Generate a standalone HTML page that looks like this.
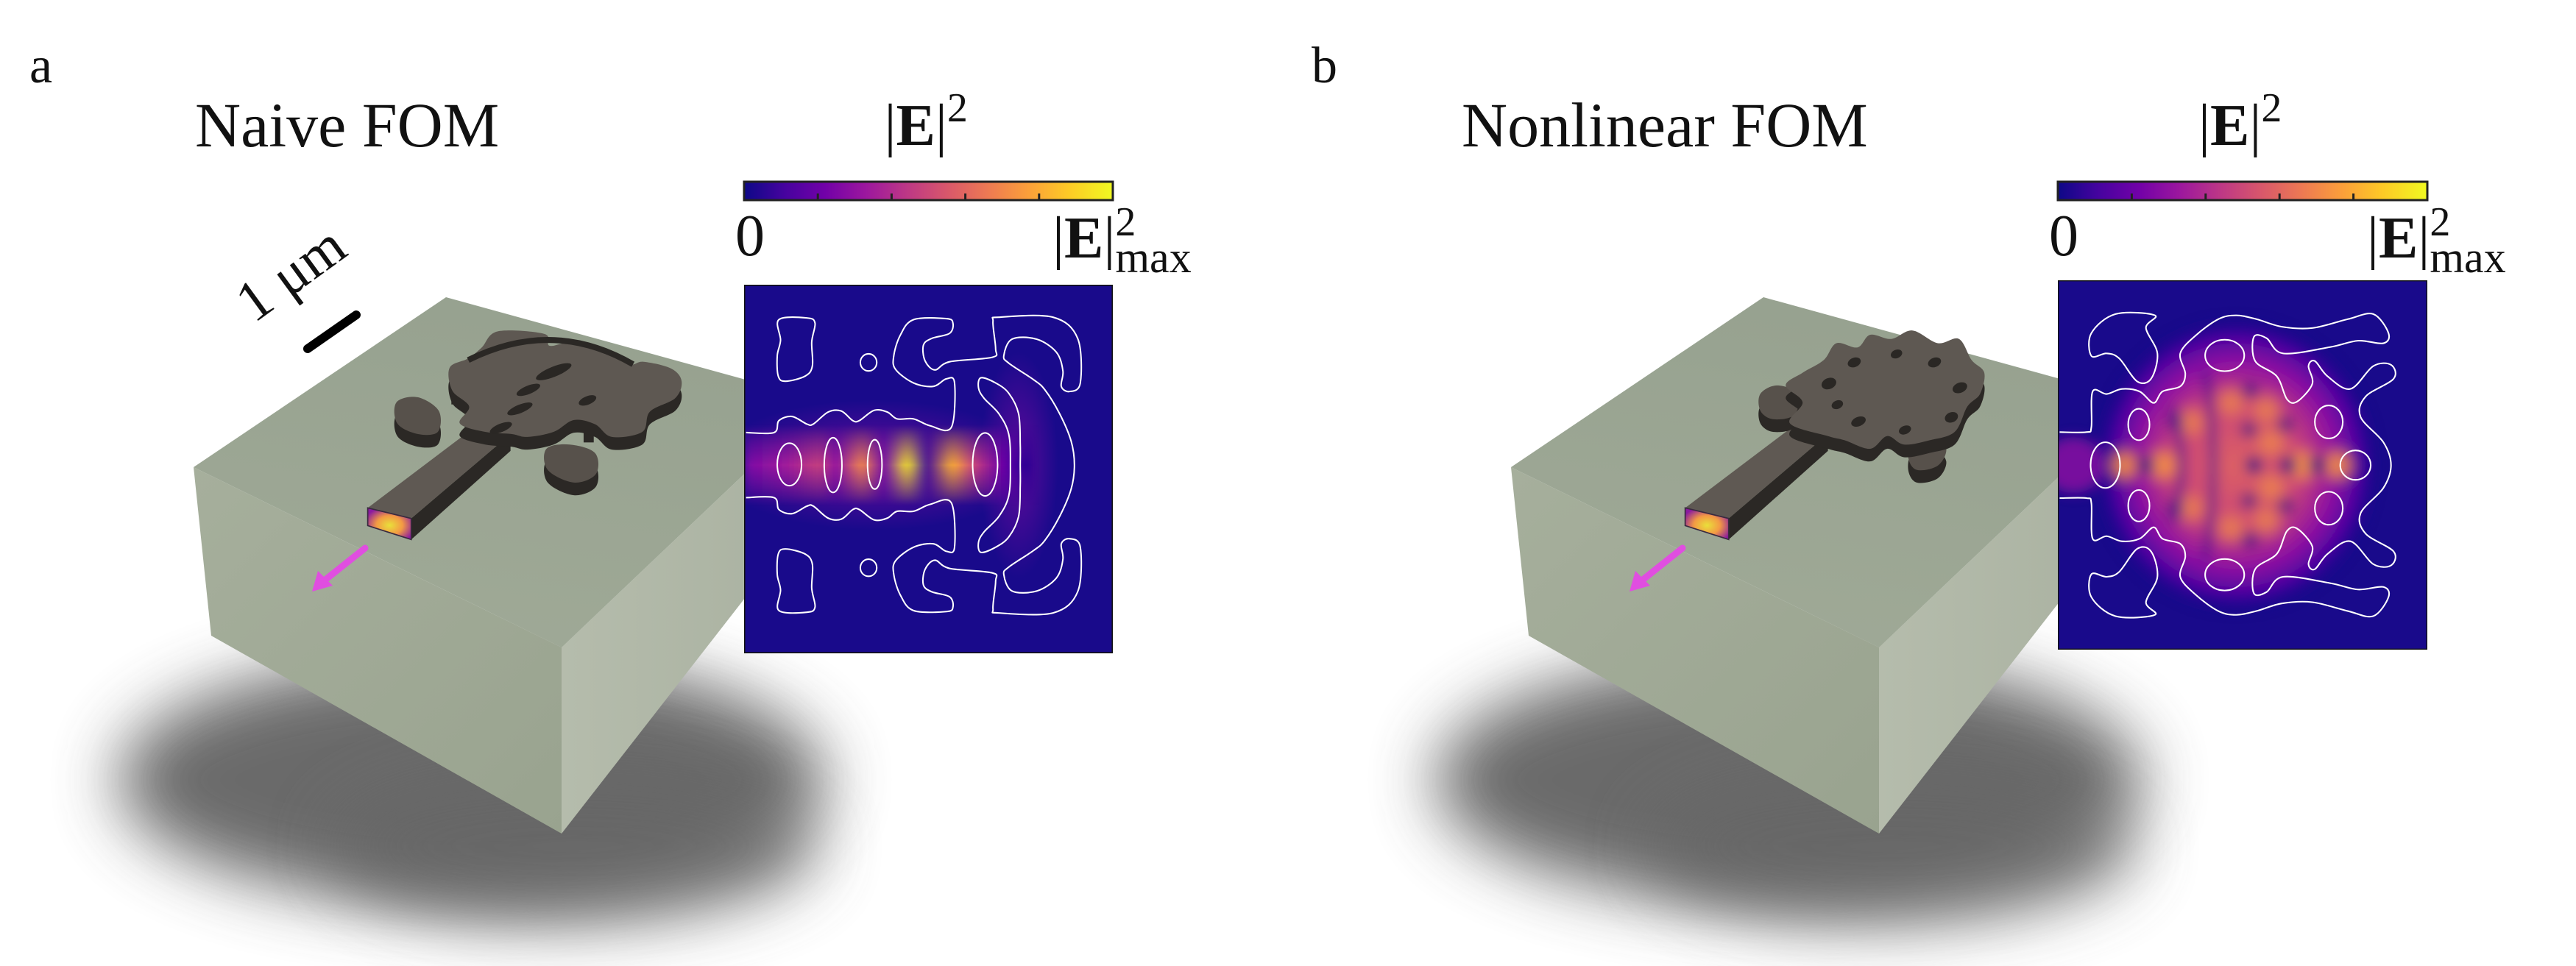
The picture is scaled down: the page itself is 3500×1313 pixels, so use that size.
<!DOCTYPE html>
<html><head><meta charset="utf-8"><style>
html,body{margin:0;padding:0;background:#fff;}
svg{display:block;}
text{font-family:"Liberation Serif",serif;fill:#111;}
</style></head><body>
<svg id="fig" width="3500" height="1313" viewBox="0 0 3500 1313" xmlns="http://www.w3.org/2000/svg">
<defs>
 <linearGradient id="plasma" x1="0" x2="1" y1="0" y2="0">
  <stop offset="0" stop-color="#0d0887"/><stop offset="0.11" stop-color="#46039f"/>
  <stop offset="0.22" stop-color="#7201a8"/><stop offset="0.33" stop-color="#9c179e"/>
  <stop offset="0.44" stop-color="#bd3786"/><stop offset="0.55" stop-color="#d8576b"/>
  <stop offset="0.66" stop-color="#ed7953"/><stop offset="0.77" stop-color="#fb9f3a"/>
  <stop offset="0.88" stop-color="#fdca26"/><stop offset="1" stop-color="#f0f921"/>
 </linearGradient>
 <linearGradient id="bandA" x1="24" x2="880" y1="0" y2="0" gradientUnits="userSpaceOnUse">
  <stop offset="0" stop-color="#7a0aa6"/><stop offset="0.15" stop-color="#a11b9b"/>
  <stop offset="0.27" stop-color="#c7427c"/><stop offset="0.33" stop-color="#8d0ea3"/>
  <stop offset="0.42" stop-color="#f3894a"/><stop offset="0.5" stop-color="#7001a8"/>
  <stop offset="0.58" stop-color="#f5e626"/><stop offset="0.65" stop-color="#3d049b"/>
  <stop offset="0.74" stop-color="#fdb030"/><stop offset="0.82" stop-color="#c83e7e"/>
  <stop offset="0.92" stop-color="#6a00a8"/><stop offset="1" stop-color="#2a0593"/>
 </linearGradient>
 <linearGradient id="vfade" x1="0" x2="0" y1="0" y2="1">
  <stop offset="0" stop-color="#000"/><stop offset="0.3" stop-color="#999"/>
  <stop offset="0.5" stop-color="#fff"/><stop offset="0.7" stop-color="#999"/>
  <stop offset="1" stop-color="#000"/>
 </linearGradient>
 <mask id="bandMask" maskContentUnits="userSpaceOnUse"><rect x="24" y="900" width="900" height="240" fill="url(#vfade)"/></mask>
 <radialGradient id="glowA"><stop offset="0" stop-color="#8a0aa5" stop-opacity="0.9"/><stop offset="1" stop-color="#8a0aa5" stop-opacity="0"/></radialGradient>
 <radialGradient id="heatB"><stop offset="0" stop-color="#dd6164"/><stop offset="0.45" stop-color="#c8437a"/><stop offset="0.7" stop-color="#8e10a3"/><stop offset="0.88" stop-color="#4a03a0"/><stop offset="1" stop-color="#1a0b8b" stop-opacity="0"/></radialGradient>
 <radialGradient id="hot"><stop offset="0" stop-color="#f89540"/><stop offset="1" stop-color="#f89540" stop-opacity="0"/></radialGradient>
 <radialGradient id="cold"><stop offset="0" stop-color="#170a86"/><stop offset="1" stop-color="#170a86" stop-opacity="0"/></radialGradient>
 <radialGradient id="modeface" cx="0.5" cy="0.55" r="0.6"><stop offset="0" stop-color="#e9e03a"/><stop offset="0.5" stop-color="#f39a44"/><stop offset="1" stop-color="#8a1aa0"/></radialGradient>
 <linearGradient id="topface" x1="0" y1="1" x2="0.3" y2="0"><stop offset="0" stop-color="#a0aa97"/><stop offset="1" stop-color="#97a290"/></linearGradient>
 <linearGradient id="frontface" x1="0" y1="0" x2="1" y2="1"><stop offset="0" stop-color="#a6af9c"/><stop offset="1" stop-color="#99a38f"/></linearGradient>
 <linearGradient id="rightface" x1="0" y1="0" x2="1" y2="0"><stop offset="0" stop-color="#b5bcac"/><stop offset="1" stop-color="#a9b1a0"/></linearGradient>
 <filter id="blur40" x="-50%" y="-50%" width="200%" height="200%"><feGaussianBlur stdDeviation="45"/></filter>
 <filter id="blur14" x="-20%" y="-20%" width="140%" height="140%"><feGaussianBlur stdDeviation="14"/></filter>
 <filter id="blur25" x="-30%" y="-30%" width="160%" height="160%"><feGaussianBlur stdDeviation="25"/></filter>
</defs>

<text x="40" y="112" font-size="70">a</text>
<text x="1782" y="112" font-size="70">b</text>
<text x="265" y="199" font-size="86" fill="#2a1414">Naive FOM</text>
<text x="1986" y="199" font-size="86" fill="#2a1414">Nonlinear FOM</text>

<g id="panelA"></g>
<g id="panelB" transform="translate(1790,0)"></g>
<g id="mapA"></g>
<g id="mapB"></g>
</svg>
<script>
const NS="http://www.w3.org/2000/svg";
function mk(tag,attrs,parent){const e=document.createElementNS(NS,tag);for(const k in attrs)e.setAttribute(k,attrs[k]);parent.appendChild(e);return e;}
function pts(a){return a.map(p=>p.join(',')).join(' ');}
function smooth(a,closed){
  const n=a.length;let d='M'+a[0][0]+','+a[0][1];
  const g=i=>closed?a[(i+n)%n]:a[Math.max(0,Math.min(n-1,i))];
  const m=closed?n:n-1;
  for(let i=0;i<m;i++){const p0=g(i-1),p1=g(i),p2=g(i+1),p3=g(i+2);
    d+=' C'+(p1[0]+(p2[0]-p0[0])/6)+','+(p1[1]+(p2[1]-p0[1])/6)+' '+(p2[0]-(p3[0]-p1[0])/6)+','+(p2[1]-(p3[1]-p1[1])/6)+' '+p2[0]+','+p2[1];}
  return d+(closed?'Z':'');
}
const blockTop=[[263,635],[606,404],[1100,540],[1100,560],[763,880]];
const blockFront=[[263,635],[763,880],[763,1133],[287,864]];
const blockRight=[[763,880],[1100,560],[1100,700],[763,1133]];
const devA=[[740,480],[762,440],[722,402],[716,348],[760,326],[792,300],[830,262],[940,268],[952,296],[1000,290],[1080,310],[1140,340],[1175,334],[1240,350],[1265,380],[1250,420],[1190,452],[1172,500],[1100,512],[1060,482],[1010,472],[962,500],[900,512],[862,505],[800,500]];
const holesA=[[880,440,32,10],[835,485,28,10],[960,352,45,12],[900,395,30,10],[1040,420,22,10]];
const blobsA=[[[590,430],[640,418],[690,450],[688,500],[640,505],[592,480]],[[945,540],[1000,530],[1060,550],[1062,600],[1010,620],[948,590]]];
const pillarsA=[[735,400,15],[1045,490,12]];
const devB=[[770,480],[800,430],[760,390],[800,360],[850,330],[880,290],[930,300],[960,270],[1010,280],[1060,260],[1120,290],[1170,280],[1200,330],[1230,360],[1220,410],[1190,440],[1160,500],[1100,520],[1040,530],[1000,510],[960,540],[900,520],[860,510]];
const holesB=[[860,380,18,13],[920,330,16,11],[1020,310,14,10],[1110,330,16,11],[1170,390,18,12],[1150,460,16,12],[1040,490,15,10],[930,470,18,11],[880,430,14,10]];
const blobsB=[[[700,410],[740,390],[790,410],[780,460],[730,470],[700,450]],[[1060,520],[1110,510],[1140,540],[1120,580],[1070,590],[1050,560]]];

function drawScene(g,dev,holes,blobs,pillars,isA){
  let s=mk('ellipse',{cx:640,cy:1060,rx:480,ry:170,fill:'#5a5a5a',opacity:0.9,filter:'url(#blur40)'},g);
  
  let s2=mk('ellipse',{cx:780,cy:1150,rx:330,ry:100,fill:'#666',opacity:0.8,filter:'url(#blur40)'},g);
  
  let f=mk('polygon',{points:pts(blockFront),fill:'url(#frontface)'},g);
  
  let r=mk('polygon',{points:pts(blockRight),fill:'url(#rightface)'},g);
  
  let t=mk('polygon',{points:pts(blockTop),fill:'url(#topface)'},g);
  
  const dg=mk('g',{transform:'translate(200,300) scale(0.574)'},g);
  
  mk('polygon',{points:'625,705 860,505 860,545 625,755',fill:'#2b2825'},dg);
  mk('polygon',{points:'522,680 800,470 860,505 625,705',fill:'#5f5953'},dg);
  let face=mk('polygon',{points:'522,680 625,705 625,755 522,722',fill:'url(#modeface)',stroke:'#3a2a40','stroke-width':3},dg);
  
  blobs.forEach(b=>{mk('path',{d:smooth(b.map(p=>[p[0],p[1]+30]),true),fill:'#2b2825'},dg);mk('path',{d:smooth(b,true),fill:'#57514b'},dg);});
  pillars.forEach(p=>{mk('rect',{x:p[0]-p[2],y:p[1],width:2*p[2],height:35,fill:'#2b2825'},dg);mk('ellipse',{cx:p[0],cy:p[1],rx:p[2],ry:p[2]*0.7,fill:'#57514b'},dg);});
  mk('path',{d:smooth(dev.map(p=>[p[0],p[1]+30]),true),fill:'#2b2825'},dg);
  mk('path',{d:smooth(dev,true),fill:'#5e5852'},dg);
  holes.forEach(h=>{mk('ellipse',{cx:h[0],cy:h[1]+6,rx:h[2],ry:h[3],fill:'#2a2724',transform:'rotate(-22 '+h[0]+' '+h[1]+')'},dg);});
  if(isA){mk('path',{d:'M 760 330 Q 960 230 1150 340',fill:'none',stroke:'#2b2825','stroke-width':14},dg);}
  let ar=mk('g',{},g);
  mk('line',{x1:496,y1:745,x2:442,y2:788,stroke:'#e04ee0','stroke-width':9,'stroke-linecap':'round'},ar);
  mk('polygon',{points:'424,804 432,776 452,796',fill:'#e04ee0'},ar);
  if(isA){
    let sb=mk('line',{x1:418,y1:474,x2:484,y2:428,stroke:'#000','stroke-width':12,'stroke-linecap':'round'},g);
    
    let tx=mk('text',{x:0,y:0,'font-size':78,transform:'translate(345,440) rotate(-36)'},g);
    tx.textContent='1 μm';
    
  }
}
drawScene(document.getElementById('panelA'),devA,holesA,blobsA,pillarsA,true);
drawScene(document.getElementById('panelB'),devB,holesB,blobsB,[],false);

const cbTicks=[0.2,0.4,0.6,0.8];
function drawColorbar(g,x0,w){
  const cb=mk('g',{},g);
  mk('rect',{x:x0,y:247,width:w,height:25,fill:'url(#plasma)',stroke:'#222','stroke-width':3},cb);
  cbTicks.forEach(t=>{mk('line',{x1:x0+t*w,x2:x0+t*w,y1:272,y2:263,stroke:'#222','stroke-width':3},cb);});
  const tt=mk('text',{x:x0+w/2-60,y:197,'font-size':80},g);
  tt.innerHTML='|<tspan font-weight="bold">E</tspan>|<tspan font-size="56" dy="-32">2</tspan>';
  
  const z=mk('text',{x:x0-12,y:347,'font-size':80},g);z.textContent='0';
  
  const mx=mk('text',{x:x0+w-82,y:350,'font-size':80},g);
  mx.innerHTML='|<tspan font-weight="bold">E</tspan>|<tspan font-size="56" dy="-30">2</tspan><tspan font-size="60" dx="-28" dy="50">max</tspan>';
  
}

const waveTop=[[30,925],[115,925],[130,890],[170,878],[215,900],[235,900],[280,865],[320,862],[355,890],[375,890],[420,860],[460,865],[490,885],[540,885],[590,905],[655,910]];
const outerA=[[655,910],[665,780],[640,768],[600,790],[540,780],[485,740],[480,700],[500,640],[540,595],[640,592],[660,605],[650,635],[595,650],[570,670],[575,715],[605,742],[650,718],[780,705],[790,680],[782,600],[800,588],[965,588],[1040,650],[1048,780],[1015,805],[990,790],[995,745],[975,690],[915,652],[840,652],[815,700],[830,722],[905,770],[940,800],[985,870],[1020,950],[1030,1020]];
const arcA=[[745,765],[790,780],[830,810],[860,870],[865,960],[865,1020]];
const arcAin=[[835,1020],[830,930],[800,870],[755,825],[738,795]];
const blobTL=[[130,595],[215,590],[240,605],[230,660],[232,730],[210,760],[150,775],[128,760],[125,700],[135,655]];
const ovalsA=[[162,1018,37,62],[295,1020,27,80],[422,1018,22,72],[758,1018,38,92]];
const circA=[[403,720,25]];
const CY=1020;
function mirror(a){return a.map(p=>[p[0],2*CY-p[1]]);}

function drawMapA(){
  const g=document.getElementById('mapA');
  drawColorbar(g,1011,501);
  const sv=mk('svg',{x:1011,y:387,width:501,height:501,viewBox:'24 493 1123 1077',preserveAspectRatio:'none'},g);
  
  mk('rect',{x:24,y:493,width:1123,height:1077,fill:'#190a8b'},sv);
  mk('ellipse',{cx:420,cy:1020,rx:500,ry:190,fill:'url(#glowA)',opacity:0.8},sv);
  mk('ellipse',{cx:860,cy:1020,rx:120,ry:330,fill:'url(#glowA)',opacity:0.7},sv);
  mk('rect',{x:24,y:900,width:880,height:240,fill:'url(#bandA)',mask:'url(#bandMask)',filter:'url(#blur14)'},sv);
  const cg=mk('g',{fill:'none',stroke:'#fff','stroke-width':4.5},sv);
  
  const outerFull=waveTop.concat(outerA.slice(1)).concat(mirror(outerA.slice(0,-1)).reverse()).concat(mirror(waveTop).reverse().slice(1));
  mk('path',{d:smooth(outerFull,false)},cg);
  const arcFull=arcA.concat(mirror(arcA).reverse().slice(1)).concat(mirror(arcAin).reverse().slice(0,-1)).concat(arcAin);
  mk('path',{d:smooth(arcFull,true)},cg);
  [blobTL,mirror(blobTL)].forEach(b=>mk('path',{d:smooth(b,true)},cg));
  circA.forEach(c=>{mk('circle',{cx:c[0],cy:c[1],r:c[2]},cg);mk('circle',{cx:c[0],cy:2*CY-c[1],r:c[2]},cg);});
  ovalsA.forEach(o=>mk('ellipse',{cx:o[0],cy:o[1],rx:o[2],ry:o[3]},cg));
  mk('rect',{x:24,y:493,width:1123,height:1077,fill:'none',stroke:'#111','stroke-width':7},sv);
}
drawMapA();

const CYB=790;
const outerB=[[25,660],[130,660],[150,640],[155,500],[210,510],[270,490],[340,500],[395,545],[430,500],[500,480],[520,430],[500,350],[560,280],[650,215],[720,200],[800,215],[900,245],[1020,250],[1160,215],[1260,195],[1320,270],[1300,310],[1200,300],[1090,325],[905,350],[840,290],[790,285],[795,380],[880,440],[920,530],[960,540],[1020,470],[1005,400],[1030,380],[1080,440],[1170,490],[1260,400],[1330,395],[1340,450],[1230,520],[1210,600],[1300,700],[1330,790]];
const blobTLB=[[150,270],[245,195],[400,200],[365,250],[410,350],[385,450],[330,460],[260,370],[210,350],[150,360]];
const ovalsB=[[675,358,77,62],[337,630,42,62],[205,790,58,90],[1085,620,55,65],[1190,790,60,58]];
const hotB=[[840,570],[700,540],[540,620],[430,790],[280,790],[860,700],[980,790],[1120,790]];
const coldB=[[775,495],[770,650],[915,630],[790,790],[925,790],[365,790],[480,620],[1040,790]];
function mirB(a){return a.map(p=>[p[0],2*CYB-p[1]]);}
function drawMapB(){
  const g=document.getElementById('mapB');
  drawColorbar(g,2796,502);
  const sv=mk('svg',{x:2796,y:381,width:502,height:502,viewBox:'18 62 1455 1455',preserveAspectRatio:'none'},g);
  
  mk('rect',{x:18,y:62,width:1455,height:1455,fill:'#190a8b'},sv);
  const hg=mk('g',{filter:'url(#blur25)'},sv);
  mk('ellipse',{cx:720,cy:790,rx:560,ry:580,fill:'url(#heatB)'},hg);
  mk('ellipse',{cx:80,cy:790,rx:120,ry:110,fill:'#8e10a3',opacity:0.8},hg);
  [0,1].forEach(k=>hotB.forEach(h=>{const y=k?2*CYB-h[1]:h[1];mk('circle',{cx:h[0],cy:y,r:80,fill:'url(#hot)',opacity:0.85},hg);}));
  mk('path',{d:'M 470 560 Q 540 790 470 1020',fill:'none',stroke:'#2a078f','stroke-width':26,opacity:0.8},hg);
  mk('path',{d:'M 600 420 Q 660 790 600 1160',fill:'none',stroke:'#2a078f','stroke-width':26,opacity:0.8},hg);
  [0,1].forEach(k=>coldB.forEach(c=>{const y=k?2*CYB-c[1]:c[1];mk('circle',{cx:c[0],cy:y,r:40,fill:'url(#cold)'},hg);}));
  const cg=mk('g',{fill:'none',stroke:'#fff','stroke-width':6},sv);
  
  mk('path',{d:smooth(outerB.concat(mirB(outerB.slice(0,-1)).reverse()),false)},cg);
  [blobTLB,mirB(blobTLB)].forEach(b=>mk('path',{d:smooth(b,true)},cg));
  ovalsB.forEach(o=>{mk('ellipse',{cx:o[0],cy:o[1],rx:o[2],ry:o[3]},cg);if(o[1]!==CYB)mk('ellipse',{cx:o[0],cy:2*CYB-o[1],rx:o[2],ry:o[3]},cg);});
  mk('rect',{x:18,y:62,width:1455,height:1455,fill:'none',stroke:'#111','stroke-width':8},sv);
}
drawMapB();
</script>
</body></html>
